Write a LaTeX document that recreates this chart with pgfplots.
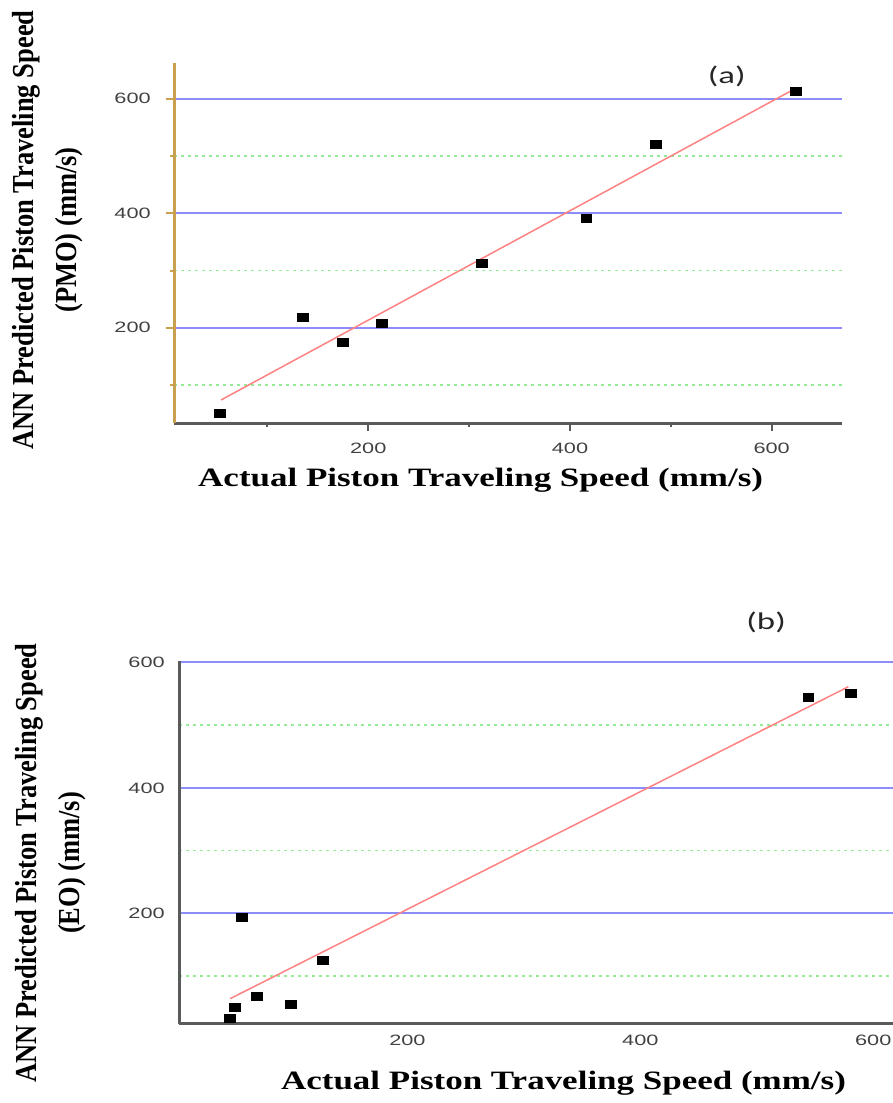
\documentclass[border=0pt]{standalone}
\usepackage{fontspec}
\setmainfont{Liberation Serif}
\usepackage{pgfplots}
\pgfplotsset{compat=1.18}
\newfontfamily\tickfont[FakeStretch=1.45]{Liberation Sans}
\newfontfamily\xlabfont[FakeStretch=1.32]{Liberation Serif}
\newfontfamily\ylabfont{Liberation Serif}
\newfontfamily\panelfont[FakeStretch=1.45]{Carlito}
\definecolor{gridblue}{RGB}{140,140,250}
\definecolor{gridgreen}{RGB}{150,235,150}
\definecolor{fitred}{RGB}{255,130,130}
\definecolor{goldc}{RGB}{200,160,80}
\definecolor{axisgray}{RGB}{90,90,90}
\definecolor{ticktext}{RGB}{65,65,65}
\newcommand{\yl}[1]{\scalebox{1}[1.15]{#1}}
\pgfplotsset{
  common/.style={
    scale only axis, anchor=south west,
    axis x line*=bottom, axis y line*=left,
    axis line style={-, line width=2.5pt},
    ymajorgrids, yminorgrids,
    major grid style={draw=gridblue, line width=2pt},
    minor grid style={draw=gridgreen, line width=1.3pt, dash pattern=on 3pt off 4pt},
    xtick={200,400,600}, ytick={200,400,600},
    minor ytick={100,300,500},
    tick label style={font=\tickfont\fontsize{15}{15}\selectfont, text=ticktext},
    /pgf/number format/assume math mode=true,
    clip=false,
    xlabel style={font=\xlabfont\bfseries\fontsize{26.5}{30}\selectfont, anchor=center},
    ylabel style={font=\ylabfont\bfseries\fontsize{26.5}{43}\selectfont, align=center, anchor=center},
  }
}
\begin{document}
\begin{tikzpicture}
\useasboundingbox (0,0) rectangle (893pt,1103pt);
% ---------- panel (a)
\begin{axis}[common,
  at={(174.3pt,679.5pt)}, width=667.4pt, height=360.3pt,
  xmin=7.7, xmax=669.4, ymin=33, ymax=662,
  minor xtick={100,300,500},
  tick align=outside, major tick length=8pt, minor tick length=4pt,
  y axis line style={draw=goldc}, x axis line style={draw=axisgray},
  every y tick/.append style={draw=goldc, line width=2pt},
  every x tick/.append style={draw=axisgray, line width=2pt},
  yticklabel style={xshift=-12pt}, xticklabel style={yshift=-8pt},
  xlabel={Actual Piston Traveling Speed (mm/s)},
  xlabel style={at={(axis description cs:0.459,-0.157)}},
  ylabel={\yl{ANN Predicted Piston Traveling Speed}\\\yl{(PMO) (mm/s)}},
  ylabel style={at={(axis description cs:-0.1900,0.537)}},
]
\addplot[fitred, line width=1.5pt] coordinates {(54,74) (620,614.5)};
\addplot[only marks, mark=square*, mark size=4pt, mark options={xscale=1.35, fill=black, draw=black}] coordinates {
(53,50.5) (135,218.7) (174.8,174.3) (213.3,208.8) (312.2,312.7) (416.1,392.1) (485.1,521.2) (623.4,613.4)};
\node[font=\panelfont\fontsize{24}{24}\selectfont, text=black!85] at (axis cs:555.4,638.6) {(a)};
\end{axis}
% ---------- panel (b)
\begin{axis}[common,
  at={(179.3pt,79.5pt)}, width=752.2pt, height=362.4pt,
  xmin=4.1, xmax=650, ymin=24.4, ymax=602,
  major tick length=0pt, minor tick length=0pt,
  axis line style={draw=axisgray},
  yticklabel style={xshift=-11pt}, xticklabel style={yshift=-8pt},
  xlabel={Actual Piston Traveling Speed (mm/s)},
  xlabel style={at={(axis description cs:0.5108,-0.164)}},
  ylabel={\yl{ANN Predicted Piston Traveling Speed}\\\yl{(EO) (mm/s)}},
  ylabel style={at={(axis description cs:-0.1710,0.443)}},
]
\addplot[fitred, line width=1.5pt] coordinates {(47.7,63.9) (578.6,561.1)};
\addplot[only marks, mark=square*, mark size=4pt, mark options={xscale=1.35, fill=black, draw=black}] coordinates {
(47.7,32.7) (52,49.6) (57.7,193.6) (70.6,68.2) (99.8,55) (127.3,125.6) (544.2,544.2) (580.6,551.5)};
\node[font=\panelfont\fontsize{24}{24}\selectfont, text=black!85] at (axis cs:508,664) {(b)};
\end{axis}
\end{tikzpicture}
\end{document}
